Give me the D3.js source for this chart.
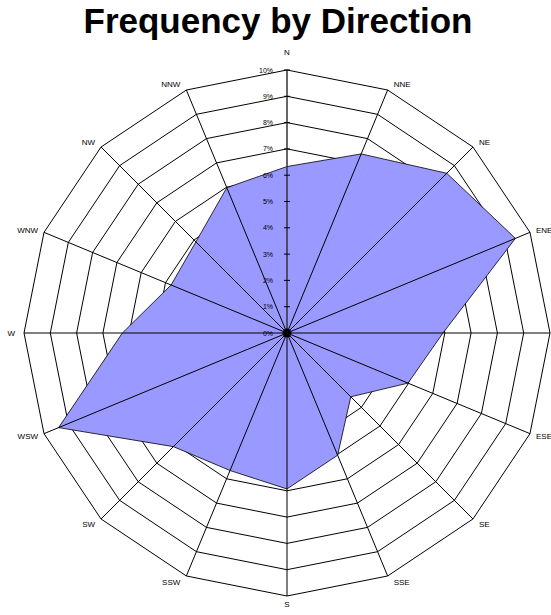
<!DOCTYPE html>
<html>
<head>
<meta charset="utf-8">
<script src="https://cdn.jsdelivr.net/npm/d3@7/dist/d3.min.js"></script>
<style>
  html, body { margin: 0; padding: 0; background: #fff; }
  svg { display: block; }
</style>
</head>
<body>
<svg id="chart" width="551" height="615"></svg>
<script>
const directions = ["N","NNE","NE","ENE","E","ESE","SE","SSE","S","SSW","SW","WSW","W","WNW","NW","NNW"];
const frequency = [6.33, 7.37, 8.59, 9.4, 5.93, 4.98, 3.43, 5.03, 5.93, 5.66, 6.11, 9.4, 6.26, 4.77, 4.9, 5.98];
const ringValues = [0,1,2,3,4,5,6,7,8,9,10];
const tickLabels = ["0%","1%","2%","3%","4%","5%","6%","7%","8%","9%","10%"];
const title = "Frequency by Direction";

const W = 551, H = 615;
const cx = 287, cy = 333, R = 263;
const svg = d3.select("#chart");

const r = d3.scaleLinear().domain([0, 10]).range([0, R]);
const step = 360 / directions.length;
const angleOf = d => directions.indexOf(d) * step * Math.PI / 180;
const pt = (d, v) => {
  const a = angleOf(d);
  return [cx + r(v) * Math.sin(a), cy - r(v) * Math.cos(a)];
};

// Title
svg.append("text")
  .attr("x", 278).attr("y", 33)
  .attr("text-anchor", "middle")
  .attr("font-family", "Liberation Sans, Arial, sans-serif")
  .attr("font-weight", "bold")
  .attr("font-size", 35)
  .attr("fill", "#000")
  .text(title);

// Rings
const ringLine = d3.line();
svg.append("g").selectAll("path")
  .data(ringValues.filter(v => v > 0))
  .join("path")
  .attr("d", v => ringLine(directions.map(d => pt(d, v))) + "Z")
  .attr("fill", "none")
  .attr("stroke", "#000")
  .attr("stroke-width", 1);

// Data polygon
svg.append("path")
  .attr("d", ringLine(directions.map((d, i) => pt(d, frequency[i]))) + "Z")
  .attr("fill", "#9999ff")
  .attr("stroke", "#000")
  .attr("stroke-width", 0.8);

// Spokes
svg.append("g").selectAll("line")
  .data(directions)
  .join("line")
  .attr("x1", cx).attr("y1", cy)
  .attr("x2", d => pt(d, 10)[0])
  .attr("y2", d => pt(d, 10)[1])
  .attr("stroke", d => d === "N" ? "#333" : "#000")
  .attr("stroke-width", d => d === "N" ? 1.5 : 1);

// Tick marks on N spoke
svg.append("g").selectAll("line")
  .data(ringValues)
  .join("line")
  .attr("x1", cx - 3).attr("x2", cx + 3)
  .attr("y1", v => cy - r(v)).attr("y2", v => cy - r(v))
  .attr("stroke", "#000");

// Tick labels
svg.append("g").selectAll("text")
  .data(ringValues)
  .join("text")
  .attr("x", cx - 14)
  .attr("y", v => cy - r(v) + 2.5)
  .attr("text-anchor", "end")
  .attr("font-family", "Liberation Sans, Arial, sans-serif")
  .attr("font-size", 7)
  .attr("fill", "#000")
  .text((v, i) => tickLabels[i]);

// Center dot
svg.append("circle")
  .attr("cx", cx).attr("cy", cy).attr("r", 4.5)
  .attr("fill", "#000");

// Direction labels (labels that would start beyond the canvas edge are not drawn, as in the reference)
const labelPos = d => {
  const a = angleOf(d);
  const s = Math.sin(a), c = Math.cos(a);
  const [x, y] = pt(d, 10);
  let dx = 0, dy = 0, anchor = "middle";
  if (s > 0.1) { anchor = "start"; dx = 6; }
  else if (s < -0.1) { anchor = "end"; dx = -6; }
  if (d === "N") dy = -18;
  else if (d === "S") dy = 8;
  else dy = -c * 7;
  if (Math.abs(s) > 0.9 && Math.abs(c) < 0.1) dx = s > 0 ? 8 : -9;
  return { x: x + dx, y: y + dy + 3, anchor };
};
svg.append("g").selectAll("text")
  .data(directions.filter(d => labelPos(d).x < W - 8))
  .join("text")
  .attr("x", d => labelPos(d).x)
  .attr("y", d => labelPos(d).y)
  .attr("text-anchor", d => labelPos(d).anchor)
  .attr("font-family", "Liberation Sans, Arial, sans-serif")
  .attr("font-size", 8)
  .attr("fill", "#000")
  .text(d => d);
</script>
</body>
</html>
